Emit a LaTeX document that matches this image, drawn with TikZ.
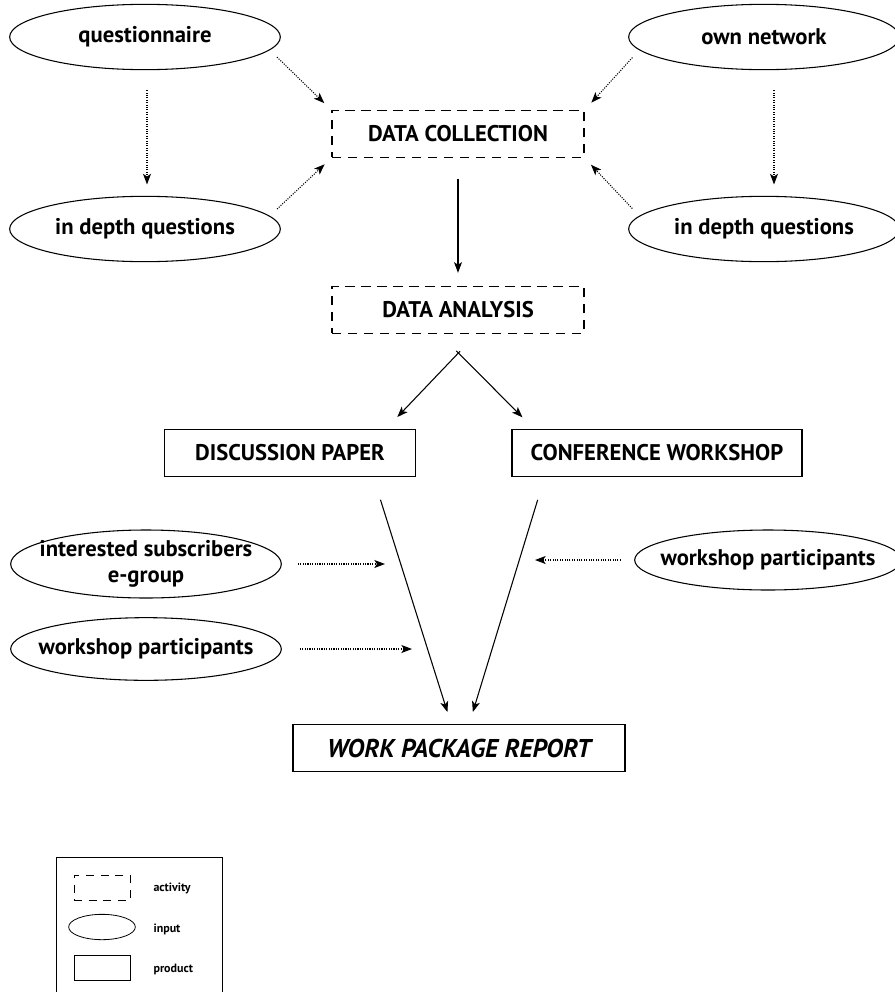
\documentclass[tikz,border=0pt]{standalone}
\usepackage{fontspec}
\setmainfont{PT Sans}
\usetikzlibrary{shapes.geometric,arrows.meta}

\begin{document}
\begin{tikzpicture}[x=0.75pt,y=-0.75pt,>={Stealth[length=8pt,width=6pt,inset=2pt]},line width=0.8pt,
		input/.style={draw,ellipse,inner xsep=-14pt,inner ysep=0pt,minimum width=203pt,minimum height=49pt,align=center,font=\bfseries\fontsize{17}{19}\selectfont},
		activity/.style={draw,dash pattern=on 7pt off 5pt,minimum width=189pt,minimum height=35pt,font=\bfseries\fontsize{17}{19}\selectfont},
		product/.style={draw,minimum height=35pt,font=\bfseries\fontsize{17}{19}\selectfont},
		feed/.style={->,densely dotted},
		legend/.style={line width=0.6pt},
		legendtext/.style={anchor=west,inner sep=0pt,font=\bfseries\fontsize{9}{10}\selectfont}]
	\useasboundingbox (0,0) rectangle (894,992);

	% Input nodes
	\node[input] (quest) at (145,37) {questionnaire};
	\node[input] (depthL) at (145,229) {in depth questions};
	\node[input] (own) at (764,37) {own network};
	\node[input] (depthR) at (764,229) {in depth questions};

	% Activities
	\node[activity] (coll) at (458,134) {DATA COLLECTION};
	\node[activity] (anal) at (458,310) {DATA ANALYSIS};

	% Products
	\node[product,minimum width=188pt] (paper) at (290,453) {DISCUSSION PAPER};
	\node[product,minimum width=217.5pt] (conf) at (657,453) {CONFERENCE WORKSHOP};
	\node[product,minimum width=249pt,font=\bfseries\itshape\fontsize{19.3}{21}\selectfont] (report) at (459,748) {WORK PACKAGE REPORT};

	% Lower inputs
	\node[input,minimum height=51pt] (subs) at (146,564) {interested subscribers\\e-group};
	\node[input,minimum height=47pt] (partL) at (146,649) {workshop participants};
	\node[input,minimum width=200pt,minimum height=45pt] (partR) at (768,560) {workshop participants};
	\coordinate (subsIn) at (385,564);
	\coordinate (partLIn) at (412,649);
	\coordinate (partRIn) at (535,560);

	% Lines going to data collection
	\draw[feed,shorten <=7.5pt,shorten >=7.5pt] (quest.-6) to (coll.north west);
	\draw[feed,shorten <=7.5pt,shorten >=7pt] (depthL.6) to (coll.south west);
	\draw[feed,shorten <=7.5pt,shorten >=7.5pt] (own.186) to (coll.north east);
	\draw[feed,shorten <=7.5pt,shorten >=7pt] (depthR.174) to (coll.south east);
	\draw[feed,shorten <=15pt,shorten >=8.5pt] ([xshift=1.5pt]quest.south) to ([xshift=1.5pt]depthL.north);
	\draw[feed,shorten <=15pt,shorten >=8.5pt] ([xshift=7.5pt]own.south) to ([xshift=7.5pt]depthR.north);

	% Lines going down
	\draw[->,shorten <=16pt,shorten >=10pt] (coll.south) to (anal.north);
	\draw[->,shorten <=18pt,shorten >=12.5pt] (anal.-52) to (paper.14);
	\draw[->,shorten <=18pt,shorten >=12.5pt] (anal.232) to (conf.169);
	\draw[->,shorten <=18pt,shorten >=9.5pt] (paper.-16) to (report.108);
	\draw[->,shorten <=18pt,shorten >=9.5pt] (conf.192) to (report.67);

	% Lines from lower inputs
	\draw[feed,shorten <=12pt] (subs.east) to (subsIn);
	\draw[feed,shorten <=13.5pt] (partL.east) to (partLIn);
	\draw[feed,shorten <=10pt] (partR.west) to (partRIn);

	% Legend
	\draw[legend] (56,992) |- (222,857) -- (222,992);
	\node[draw,legend,dash pattern=on 6pt off 5pt,minimum width=42pt,minimum height=19pt] (legAct) at (102,888) {};
	\node[draw,legend,ellipse,minimum width=50pt,minimum height=19pt] (legIn) at (102,927) {};
	\node[draw,legend,minimum width=42pt,minimum height=19pt] (legOut) at (102,968) {};
	\node[legendtext] (actText) at (153,888) {activity};
	\node[legendtext] (inText) at (153,929) {input};
	\node[legendtext] (outText) at (153,969) {product};

\end{tikzpicture}
\end{document}
